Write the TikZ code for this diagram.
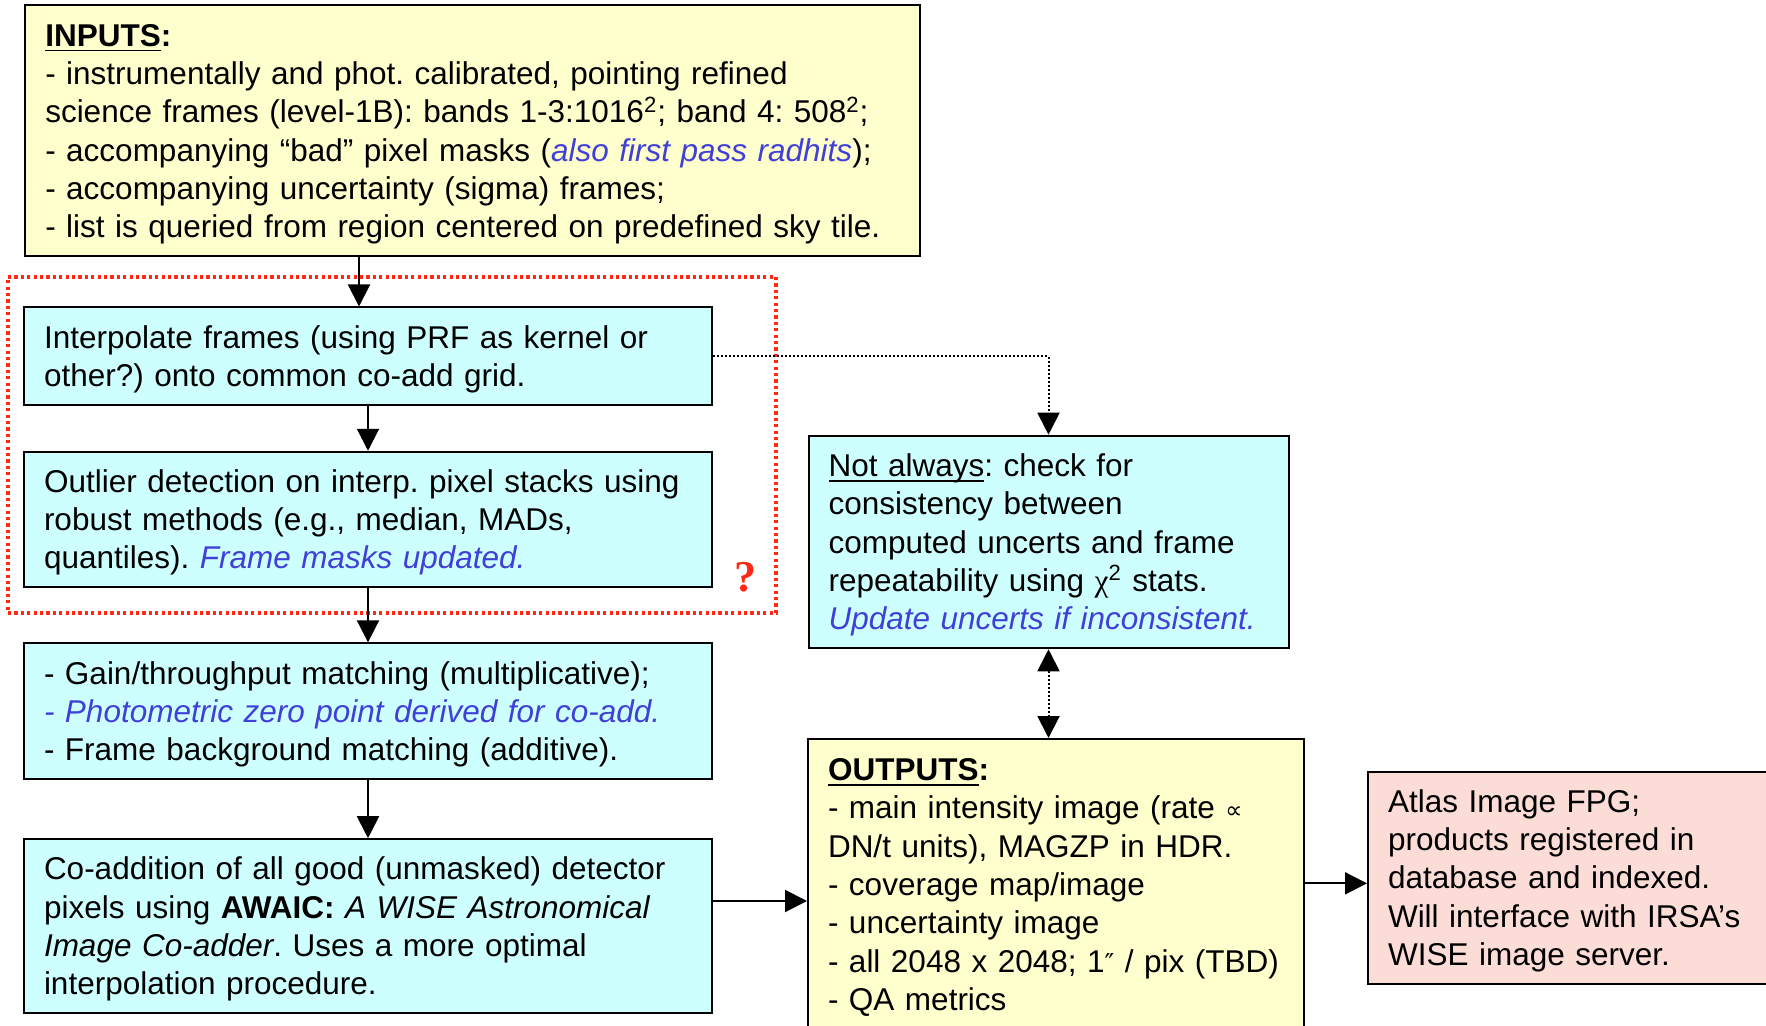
\documentclass[tikz,border=0pt]{standalone}
\usepackage{fontspec}
\setmainfont{Liberation Sans}
\newfontfamily\serifgr{Liberation Serif}
\newfontfamily\dejavu{DejaVu Sans}
\usetikzlibrary{arrows.meta,calc}
\definecolor{boxyellow}{RGB}{255,255,206}
\definecolor{boxcyan}{RGB}{206,255,255}
\definecolor{boxpink}{RGB}{252,220,214}
\definecolor{textblue}{RGB}{64,64,216}
\definecolor{framered}{RGB}{255,40,20}
\newcommand{\bl}[1]{{\color{textblue}\itshape #1}}
\newcommand{\myul}[1]{\leavevmode\setbox0\hbox{#1}\rlap{\rule[-2.6pt]{\wd0}{0.9pt}}\box0}
\newcommand{\topst}{\rule{0pt}{14.5pt}}
\newcommand{\botst}{\rule[-3.5pt]{0pt}{3.5pt}}
\hyphenpenalty=10000
\frenchspacing
\tikzset{
  flowbox/.style={draw=black, line width=1pt, align=left, inner xsep=10pt, inner ysep=0pt,
    font=\fontsize{15.75}{19.15}\selectfont, anchor=center},
  ybox/.style={flowbox, fill=boxyellow},
  cbox/.style={flowbox, fill=boxcyan},
  pbox/.style={flowbox, fill=boxpink},
  arr/.style={line width=1pt, -{Triangle[length=11pt,width=11pt]}},
  dotarr/.style={line width=1pt, dash pattern=on 1pt off 1pt, -{Triangle[length=11pt,width=11pt]}},
  dotarrboth/.style={line width=1pt, dash pattern=on 1pt off 1pt, {Triangle[length=11pt,width=11pt]}-{Triangle[length=11pt,width=11pt]}},
  redframe/.style={draw=framered, line width=1.6pt, dash pattern=on 1.6pt off 1.6pt}
}
\begin{document}
\frenchspacing
\begin{tikzpicture}[x=0.5pt,y=-0.5pt]
\useasboundingbox (0,0) rectangle (1766,1026);
\fill[white] (0,0) rectangle (1766,1026);

\node[ybox, text width=427.5pt, minimum height=125.5pt] (inputs) at (472.75,131) {%
\topst\textbf{\myul{INPUTS}:}\\
- instrumentally and phot. calibrated, pointing refined\\
science frames (level-1B): bands 1-3:1016\textsuperscript{2}; band 4: 508\textsuperscript{2};\\
- accompanying “bad” pixel masks (\bl{also first pass radhits});\\
- accompanying uncertainty (sigma) frames;\\
- list is queried from region centered on predefined sky tile.\botst};

\node[redframe, minimum width=384pt, minimum height=168pt, inner sep=0pt] (grp) at (392,445) {};

\node[cbox, text width=324pt, minimum height=49pt] (interp) at (368,356.5) {%
\topst Interpolate frames (using PRF as kernel or\\
other?) onto common co-add grid.\botst};

\node[cbox, text width=324pt, minimum height=67.75pt] (outlier) at (368,519.5) {%
\topst Outlier~detection~on~interp.~pixel~stacks~using\\
robust methods (e.g., median, MADs,\\
quantiles). \bl{Frame masks updated.}\botst};

\node[text=framered, font=\serifgr\bfseries\fontsize{22}{22}\selectfont, inner sep=0pt] (qmark) at (745,577) {?};

\node[cbox, text width=324pt, minimum height=68pt] (gain) at (368,711.3) {%
\topst - Gain/throughput matching (multiplicative);\\
\bl{- Photometric zero point derived for co-add.}\\
- Frame background matching (additive).\botst};

\node[cbox, text width=324pt, minimum height=87pt] (coadd) at (368,926.2) {%
\topst Co-addition of all good (unmasked) detector\\
pixels~using~\textbf{AWAIC:}~\textit{A~WISE~Astronomical}\\
\textit{Image Co-adder}. Uses a more optimal\\
interpolation procedure.\botst};

\node[cbox, text width=220pt, minimum height=106.3pt] (check) at (1048.5,542) {%
\topst\myul{Not always}: check for\\
consistency between\\
computed~uncerts~and~frame\\
repeatability using {\serifgr χ}\textsuperscript{2} stats.\\
\bl{Update~uncerts~if~inconsistent.}\botst};

\node[ybox, text width=228pt, minimum height=145.5pt] (outputs) at (1056,884.5) {%
\topst\textbf{\myul{OUTPUTS}:}\\
- main intensity image (rate {\dejavu\fontsize{12}{12}\selectfont ∝}\\
DN/t units), MAGZP in HDR.\\
- coverage map/image\\
- uncertainty image\\
-~all~2048~x~2048;~1{\dejavu\fontsize{13}{13}\selectfont ″}~/~pix~(TBD)\\
- QA metrics\botst};

\node[pbox, text width=191pt, minimum height=106.25pt] (atlas) at (1579,877.75) {%
\topst Atlas Image FPG;\\
products registered in\\
database and indexed.\\
Will~interface~with~IRSA’s\\
WISE image server.\botst};

\draw[arr] ([xshift=-4.5pt]interp.north |- inputs.south) -- ([xshift=-4.5pt]interp.north);
\draw[arr] (interp.south) -- (outlier.north);
\draw[arr] (outlier.south) -- (gain.north);
\draw[arr] (gain.south) -- (coadd.north);
\draw[arr] ([yshift=12.6pt]coadd.east) -- ([yshift=12.6pt]coadd.east -| outputs.west);
\draw[arr] ([yshift=-2.8pt]atlas.west -| outputs.east) -- ([yshift=-2.8pt]atlas.west);
\draw[dotarr] (interp.east) -| (check.north);
\draw[dotarrboth] (check.south) -- (check.south |- outputs.north);
\end{tikzpicture}
\end{document}
